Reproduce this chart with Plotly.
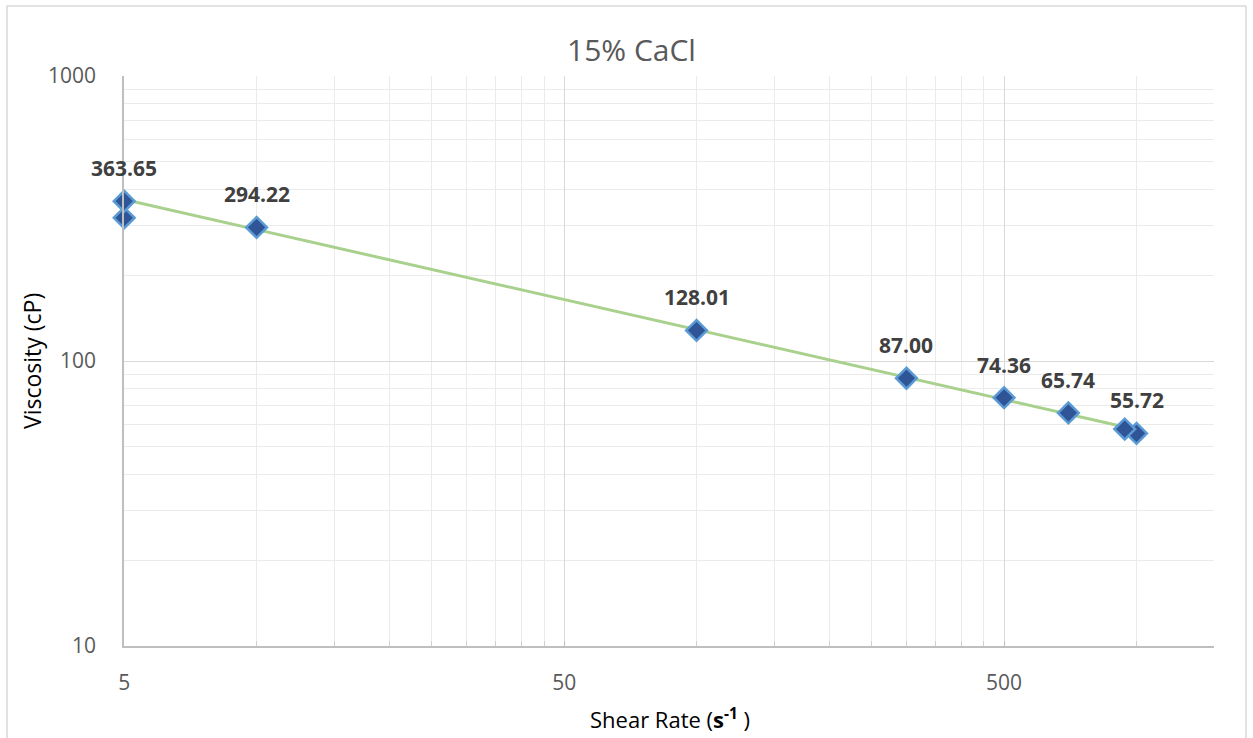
import numpy as np
import plotly.graph_objects as go

# ---- data ----
shear_main = [5, 10, 100, 300, 500, 700, 940]
visc_main = [363.65, 294.22, 128.01, 87.00, 74.36, 65.74, 57.7]
labels_main = ["363.65", "294.22", "128.01", "87.00", "74.36", "65.74", ""]

shear_extra = [5, 1000]
visc_extra = [318, 55.72]
labels_extra = ["", "55.72"]

x_ticks = [5, 50, 500]
x_minor = [10, 15, 20, 25, 30, 35, 40, 45,
           100, 150, 200, 250, 300, 350, 400, 450,
           1000, 1500]
y_ticks = [10, 100, 1000]
y_minor = [20, 30, 40, 50, 60, 70, 80, 90,
           200, 300, 400, 500, 600, 700, 800, 900]

FONT = "Open Sans"
W, H = 1253, 738
L, R, T, B = 124, 39, 76, 92
pw, ph = W - L - R, H - T - B


def px_x(p):
    return (p - L) / pw


def px_y(p):
    return (H - B - p) / ph


# power trendline fitted to the main series
lx, ly = np.log10(shear_main), np.log10(visc_main)
k, c = np.polyfit(lx, ly, 1)
trend_x = np.array([min(shear_main), max(shear_main)])
trend_y = 10 ** (c + k * np.log10(trend_x))

fig = go.Figure()
fig.add_trace(go.Scatter(x=trend_x, y=trend_y, mode="lines",
                         line=dict(color="#a9d18e", width=3),
                         hoverinfo="skip", showlegend=False,
                         cliponaxis=False))
marker = dict(symbol="diamond", size=16, color="#2f5597",
              line=dict(color="#5b9bd5", width=2.5))
fig.add_trace(go.Scatter(x=shear_extra, y=visc_extra, mode="markers",
                         marker=marker, showlegend=False, cliponaxis=False))
fig.add_trace(go.Scatter(x=shear_main, y=visc_main, mode="markers",
                         marker=marker, showlegend=False, cliponaxis=False))

annotations = []
for xs, ys, ls in ((shear_main, visc_main, labels_main),
                   (shear_extra, visc_extra, labels_extra)):
    for xv, yv, lab in zip(xs, ys, ls):
        if lab:
            annotations.append(dict(
                x=np.log10(xv), y=np.log10(yv), xref="x", yref="y",
                text="<b>%s</b>" % lab, showarrow=False, yshift=33,
                font=dict(family=FONT, size=21, color="#404040")))

annotations += [
    dict(text="15% CaCl", x=px_x(631), y=px_y(49), xref="paper", yref="paper",
         showarrow=False, xanchor="center", yanchor="middle",
         font=dict(family=FONT, size=30, color="#595959")),
    dict(text="Viscosity (cP)", x=px_x(32), y=px_y(361), xref="paper",
         yref="paper", showarrow=False, textangle=-90,
         xanchor="center", yanchor="middle",
         font=dict(family=FONT, size=23, color="#000000")),
    dict(text="Shear Rate (<b>s<sup>-1</sup></b> )", x=px_x(670), y=px_y(718),
         xref="paper", yref="paper", showarrow=False,
         xanchor="center", yanchor="middle",
         font=dict(family=FONT, size=22, color="#000000")),
]

fig.update_layout(
    width=W, height=H,
    margin=dict(l=L, r=R, t=T, b=B),
    paper_bgcolor="white", plot_bgcolor="white",
    annotations=annotations,
    shapes=[dict(type="rect", xref="paper", yref="paper",
                 x0=px_x(7), x1=px_x(1246), y0=px_y(760), y1=px_y(6),
                 line=dict(color="#d9d9d9", width=1.5), layer="below")],
)

fig.update_xaxes(
    type="log", range=[np.log10(5) - 0.0004, np.log10(1500)],
    tickmode="array", tickvals=x_ticks, ticktext=[str(v) for v in x_ticks],
    tickfont=dict(family=FONT, size=21, color="#595959"),
    showgrid=True, gridcolor="#d9d9d9", gridwidth=1,
    ticks="inside", ticklen=5, tickcolor="#bfbfbf",
    showline=True, linecolor="#bfbfbf", linewidth=1.5,
    minor=dict(tickmode="array", tickvals=x_minor, showgrid=True,
               gridcolor="#ebebeb", ticks="inside", ticklen=5,
               tickcolor="#d0d0d0"),
    zeroline=False, ticklabelstandoff=17,
)
fig.update_yaxes(
    type="log", range=[1, 3],
    tickmode="array", tickvals=y_ticks, ticktext=[str(v) for v in y_ticks],
    tickfont=dict(family=FONT, size=21, color="#595959"),
    showgrid=True, gridcolor="#d9d9d9", gridwidth=1,
    showline=True, linecolor="#bfbfbf", linewidth=1.5,
    minor=dict(tickmode="array", tickvals=y_minor, showgrid=True,
               gridcolor="#ebebeb"),
    zeroline=False, ticklabelstandoff=22,
)

fig.write_html("out.html")
